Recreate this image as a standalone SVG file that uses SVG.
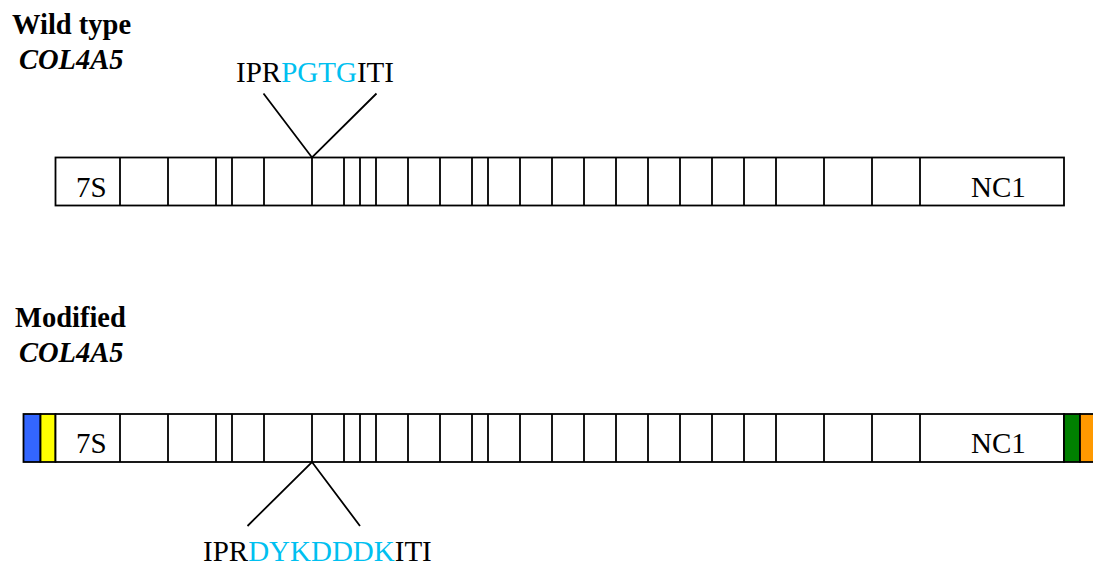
<svg xmlns="http://www.w3.org/2000/svg" width="1093" height="565" viewBox="0 0 1093 565">
<style>
.t{font-family:"Liberation Serif","Times New Roman",serif;font-size:29px;fill:#000}
.h{font-family:"Liberation Serif","Times New Roman",serif;font-size:28.5px;font-weight:bold;fill:#000}
.hi{font-style:italic}
.c{fill:#00C0F0}
.box{fill:#fff;stroke:#000;stroke-width:1.8}
.div{stroke:#000;stroke-width:1.8;fill:none}
.ln{stroke:#000;stroke-width:1.8;fill:none}
</style>
<defs>
<path id="divs" d="M120 0V48M168 0V48M216 0V48M232 0V48M264 0V48M312 0V48M344 0V48M360 0V48M376 0V48M408 0V48M440 0V48M472 0V48M488 0V48M520 0V48M552 0V48M584 0V48M616 0V48M648 0V48M680 0V48M712 0V48M744 0V48M776 0V48M824 0V48M872 0V48M920 0V48"/>
</defs>
<g id="label-wild">
<text class="h" x="12" y="34">Wild type</text>
<text class="h hi" x="19" y="69">COL4A5</text>
</g>
<g id="label-modified">
<text class="h" x="15" y="327">Modified</text>
<text class="h hi" x="19" y="362">COL4A5</text>
</g>
<g id="wild-bar">
<rect class="box" x="55.5" y="157.5" width="1008.5" height="48"/>
<use href="#divs" class="div" transform="translate(0,157.5)"/>
<text class="t" x="76" y="197">7S</text>
<text class="t" x="971" y="197">NC1</text>
</g>
<g id="modified-bar">
<rect x="23.5" y="414" width="17" height="48" fill="#3366FF" stroke="#000" stroke-width="1.8"/>
<rect x="40.5" y="414" width="15" height="48" fill="#FFFF00" stroke="#000" stroke-width="1.8"/>
<rect class="box" x="55.5" y="414" width="1008.5" height="48"/>
<use href="#divs" class="div" transform="translate(0,414)"/>
<rect x="1064" y="414" width="16" height="48" fill="#008000" stroke="#000" stroke-width="1.8"/>
<rect x="1080" y="414" width="16" height="48" fill="#FF9900" stroke="#000" stroke-width="1.8"/>
<text class="t" x="76" y="453">7S</text>
<text class="t" x="971" y="453">NC1</text>
</g>
<g id="seq-wild">
<text class="t" x="236" y="82">IPR<tspan class="c">PGTG</tspan>ITI</text>
</g>
<g id="seq-modified">
<text class="t" x="203" y="561">IPR<tspan class="c">DYKDDDK</tspan>ITI</text>
</g>
<g id="connectors">
<path class="ln" d="M263.5 93.5L312 157.5L376.5 93.5"/>
<path class="ln" d="M247.5 526L312 462L360 526"/>
</g>
</svg>
